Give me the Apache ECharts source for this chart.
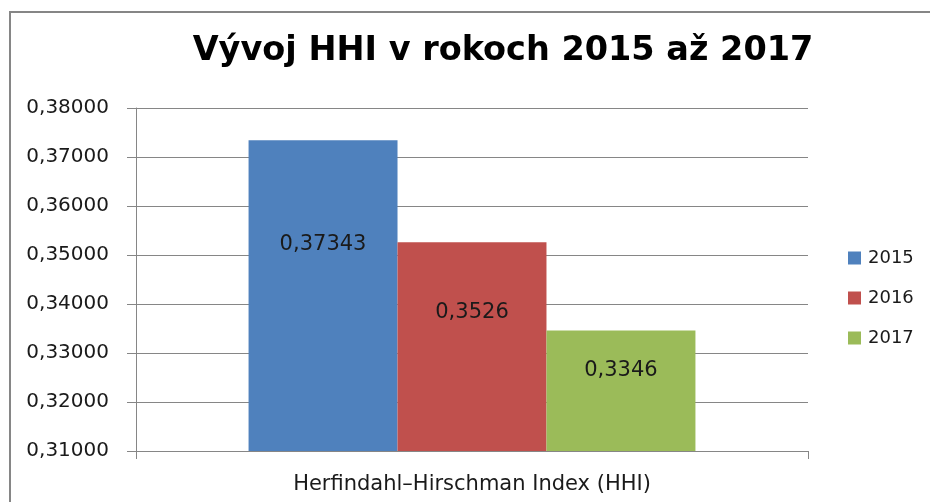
<!DOCTYPE html>
<html>
<head>
<meta charset="utf-8">
<script src="https://cdn.jsdelivr.net/npm/echarts@6/dist/echarts.min.js"></script>
<style>
  html, body { margin: 0; padding: 0; background: #ffffff; }
  #chart { width: 930px; height: 502px; }
</style>
</head>
<body>
<div id="chart"></div>
<script>
// Chart data
const categories = ['Herfindahl\u2013Hirschman Index (HHI)'];
const seriesNames = ['2015', '2016', '2017'];
const values2015 = [0.37343];
const values2016 = [0.3526];
const values2017 = [0.3346];
const seriesColors = ['#4F81BD', '#C0504D', '#9BBB59'];
const yMin = 0.31, yMax = 0.38, yStep = 0.01;

const commaNum = (v) => String(v).replace('.', ',');
const FONT = '"DejaVu Sans", "Noto Sans", sans-serif';

const chart = echarts.init(document.getElementById('chart'), null, { renderer: 'canvas' });

function barSeries(name, data, color) {
  return {
    name: name,
    type: 'bar',
    data: data,
    barGap: '0%',
    barCategoryGap: '33.5%',
    itemStyle: { color: color },
    label: {
      show: true,
      position: ['50%', '33.5%'],
      align: 'center',
      verticalAlign: 'middle',
      color: '#1a1a1a',
      fontFamily: FONT,
      fontSize: 21,
      formatter: (p) => commaNum(p.value)
    }
  };
}

chart.setOption({
  animation: false,
  backgroundColor: '#ffffff',
  title: {
    text: 'V\u00fdvoj HHI v rokoch 2015 a\u017e 2017',
    left: 498,
    textAlign: 'center',
    top: 29,
    textStyle: { fontFamily: FONT, fontWeight: 'bold', fontSize: 33.5, color: '#000000' }
  },
  legend: {
    orient: 'vertical',
    left: 843,
    top: 244,
    itemWidth: 13,
    itemHeight: 13,
    itemGap: 22,
    icon: 'rect',
    textStyle: { fontFamily: FONT, fontSize: 18, lineHeight: 18, color: '#1a1a1a', padding: [0, 0, 0, 2] },
    data: seriesNames
  },
  graphic: [{
    type: 'rect',
    shape: { x: 10, y: 12, width: 940, height: 520 },
    style: { fill: 'none', stroke: '#868686', lineWidth: 2 },
    silent: true
  }],
  grid: { left: 136, top: 108, width: 672, height: 343, containLabel: false },
  xAxis: {
    type: 'category',
    data: categories,
    axisLine: { lineStyle: { color: '#868686', width: 1 } },
    axisTick: { show: true, length: 8, lineStyle: { color: '#868686' } },
    axisLabel: { fontFamily: FONT, fontSize: 21, color: '#1a1a1a', margin: 23 }
  },
  yAxis: {
    type: 'value',
    min: yMin,
    max: yMax,
    interval: yStep,
    axisLine: { show: true, lineStyle: { color: '#868686', width: 1 } },
    axisTick: { show: true, length: 9, lineStyle: { color: '#868686' } },
    splitLine: { show: true, lineStyle: { color: '#868686', width: 1 } },
    axisLabel: {
      fontFamily: FONT, fontSize: 20, color: '#1a1a1a', margin: 27,
      formatter: (v) => v.toFixed(5).replace('.', ',')
    }
  },
  series: [
    barSeries(seriesNames[0], values2015, seriesColors[0]),
    barSeries(seriesNames[1], values2016, seriesColors[1]),
    barSeries(seriesNames[2], values2017, seriesColors[2])
  ]
});
</script>
</body>
</html>
